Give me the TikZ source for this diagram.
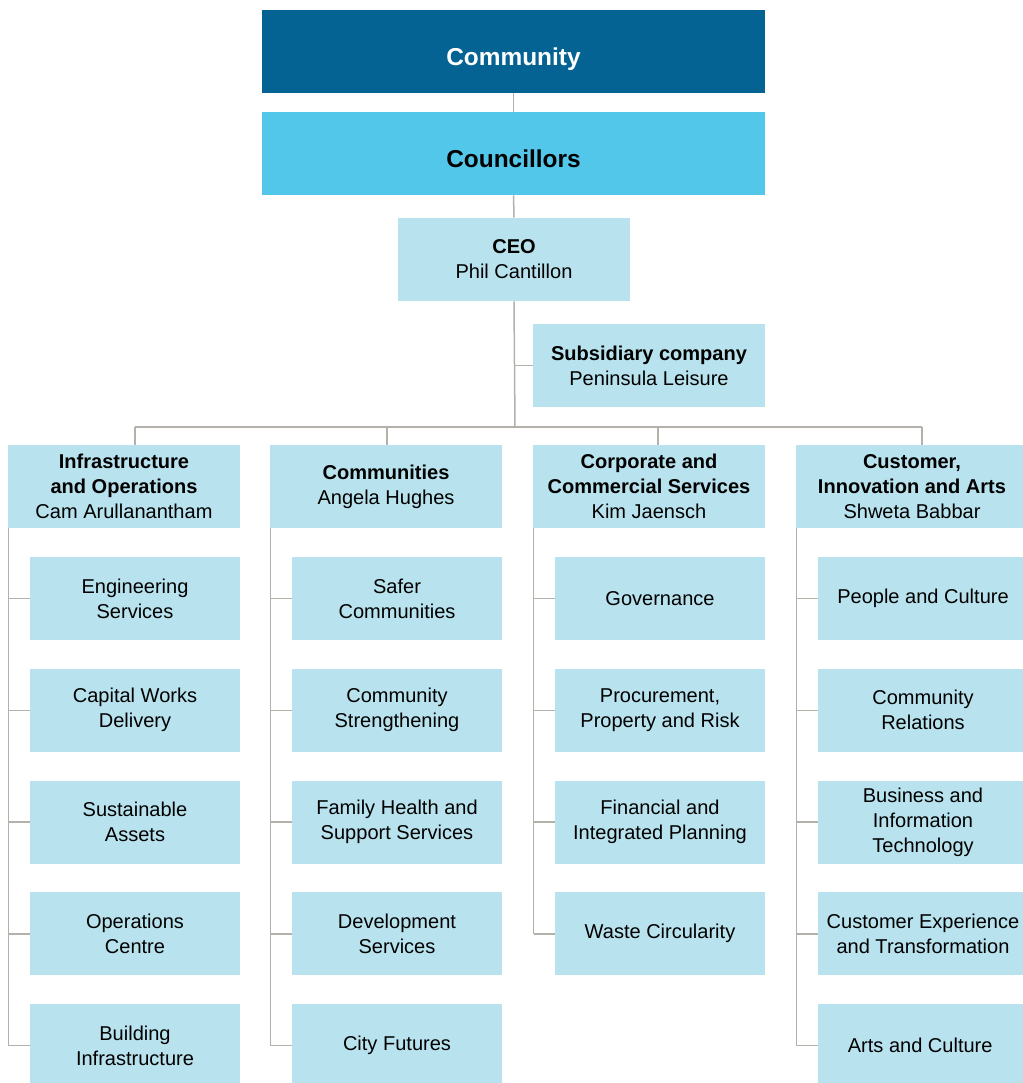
\documentclass[tikz,border=0pt]{standalone}
\usepackage{fontspec}
\setmainfont{Liberation Sans}
\usepackage{xcolor}
\usepackage{tikz}
\usetikzlibrary{positioning,calc}

\definecolor{topblue}{RGB}{5,99,148}
\definecolor{midblue}{RGB}{82,199,234}
\definecolor{paleblue}{RGB}{184,227,238}
\definecolor{linkgray}{RGB}{180,176,170}

\begin{document}
\begin{tikzpicture}[
  x=0.02cm,
  y=-0.02cm,
  font=\fontsize{11.4}{14.2}\selectfont,
  unit/.style={fill=paleblue, inner sep=0pt, align=center,
    minimum width=232*0.02cm, minimum height=83*0.02cm},
  team/.style={unit, minimum width=210*0.02cm},
  band/.style={inner sep=0pt, align=center, font=\fontsize{13.9}{16}\selectfont\bfseries,
    text height=15.4pt, text depth=0pt,
    minimum width=503*0.02cm, minimum height=83*0.02cm},
  link/.style={draw=linkgray, line width=0.03cm}
]
\useasboundingbox (0,0) rectangle (1023,1083);

\node[band, fill=topblue, text=white] (community) at (513.5,51.5) {Community};
\node[band, fill=midblue] (councillors) at (513.5,153.5) {Councillors};
\node[unit] (ceo) at (514,259.5) {\textbf{CEO}\\Phil Cantillon};
\node[unit] (sub) at (649,365.5) {\textbf{Subsidiary company}\\Peninsula Leisure};

\draw[link] (community) -- (councillors);
\draw[link] (councillors) -- (ceo);
\coordinate (bus) at (515,427);
\draw[link] (ceo.south) -- (bus);
\draw[link] (ceo.south |- sub.west) -- (sub.west);

% directorates
\node[unit] (h1) at (124,486.5) {\textbf{Infrastructure}\\\textbf{and Operations}\\Cam Arullanantham};
\node[unit] (h2) at (386,486.5) {\textbf{Communities}\\Angela Hughes};
\node[unit] (h3) at (649,486.5) {\textbf{Corporate and}\\\textbf{Commercial Services}\\Kim Jaensch};
\node[unit] (h4) at (912,486.5) {\textbf{Customer,}\\\textbf{Innovation and Arts}\\Shweta Babbar};

\coordinate (d1) at (135,427);
\coordinate (d2) at (387,427);
\coordinate (d3) at (658,427);
\coordinate (d4) at (922,427);
\draw[link] (d1) -- (d4);
\foreach \k in {1,...,4}
  \draw[link] (d\k) -- (d\k |- h\k.north);

\foreach \k/\r/\cx/\txt in {
  1/1/135/{Engineering\\Services},
  1/2/135/{Capital Works\\Delivery},
  1/3/135/{Sustainable\\Assets},
  1/4/135/{Operations\\Centre},
  1/5/135/{Building\\Infrastructure},
  2/1/397/{Safer\\Communities},
  2/2/397/{Community\\Strengthening},
  2/3/397/{Family Health and\\Support Services},
  2/4/397/{Development\\Services},
  2/5/397/{City Futures},
  3/1/660/{Governance},
  3/2/660/{Procurement,\\Property and Risk},
  3/3/660/{Financial and\\Integrated Planning},
  3/4/660/{Waste Circularity},
  4/1/923/{People and Culture},
  4/2/923/{Community\\Relations},
  4/3/923/{Business and\\Information\\Technology},
  4/4/923/{Customer Experience\\and Transformation},
  4/5/923/{Arts and Culture}
}{
  \pgfmathsetmacro{\rowy}{598.5+(\r-1)*111.75}
  \node[team] (c\k\r) at (\cx,\rowy) {\txt};
  \draw[link] ([xshift=0.02cm]h\k.south west |- c\k\r.west) -- (c\k\r.west);
}

\foreach \k/\last in {1/5,2/5,3/4,4/5}
  \draw[link] ([xshift=0.02cm]h\k.south west) -- ([xshift=0.02cm]h\k.south west |- c\k\last.west);
\end{tikzpicture}
\end{document}
